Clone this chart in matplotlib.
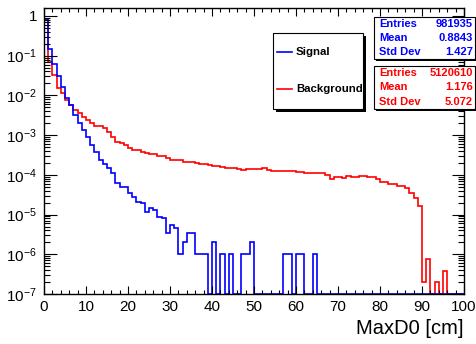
import numpy as np
import matplotlib.pyplot as plt
from matplotlib.patches import Rectangle
from matplotlib.ticker import FixedLocator, LogLocator, MultipleLocator, NullFormatter

plt.rcParams['font.family'] = 'Liberation Sans'
plt.rcParams['mathtext.fontset'] = 'custom'
plt.rcParams['mathtext.rm'] = 'Liberation Sans'
plt.rcParams['mathtext.it'] = 'Liberation Sans:italic'
plt.rcParams['mathtext.bf'] = 'Liberation Sans:bold'

# 100 bins of 1 cm, normalised histograms
edges = np.arange(0, 101, 1)

signal = [0.83, 0.15, 0.062, 0.030, 0.0166, 0.0087, 0.0058, 0.0032, 0.0020, 0.00135,
          0.00091, 5.6e-4, 3.8e-4, 2.4e-4, 1.85e-4, 1.47e-4, 1.1e-4, 6.2e-5, 5.0e-5, 5.0e-5,
          3.5e-5, 2.75e-5, 2.1e-5, 2.0e-5, 1.17e-5, 1.45e-5, 1.32e-5, 8.9e-6, 8.1e-6, 3.4e-6,
          5.5e-6, 4.5e-6, 1.02e-6, 2.04e-6, 3.4e-6, 3.4e-6, 1.02e-6, 1.02e-6, 1.02e-6, 0,
          2.04e-6, 0, 1.02e-6, 0, 1.02e-6, 0, 0, 1.02e-6, 1.02e-6, 2.04e-6,
          0, 0, 0, 0, 0, 0, 0, 1.02e-6, 1.02e-6, 0,
          1.02e-6, 1.02e-6, 0, 0, 1.02e-6, 0, 0, 0, 0, 0,
          0, 0, 0, 0, 0, 0, 0, 0, 0, 0,
          0, 0, 0, 0, 0, 0, 0, 0, 0, 0,
          0, 0, 0, 0, 0, 0, 0, 0, 0, 0]

background = [0.80, 0.069, 0.033, 0.0155, 0.0115, 0.0078, 0.0058, 0.0043, 0.0036, 0.0029,
              0.0024, 0.0020, 0.0017, 0.0017, 0.0015, 0.0012, 8.9e-4, 6.7e-4, 6.2e-4, 5.6e-4,
              4.7e-4, 4.3e-4, 4.3e-4, 3.8e-4, 3.5e-4, 3.3e-4, 3.3e-4, 3.0e-4, 2.9e-4, 2.6e-4,
              2.4e-4, 2.3e-4, 2.3e-4, 2.15e-4, 2.15e-4, 2.05e-4, 1.95e-4, 1.85e-4, 1.85e-4, 1.8e-4,
              1.63e-4, 1.63e-4, 1.55e-4, 1.45e-4, 1.45e-4, 1.52e-4, 1.42e-4, 1.32e-4, 1.42e-4, 1.42e-4,
              1.42e-4, 1.37e-4, 1.48e-4, 1.35e-4, 1.26e-4, 1.26e-4, 1.25e-4, 1.22e-4, 1.22e-4, 1.28e-4,
              1.15e-4, 1.15e-4, 1.1e-4, 1.1e-4, 1.1e-4, 1.1e-4, 1.1e-4, 9.8e-5, 8.0e-5, 8.6e-5,
              8.6e-5, 8.5e-5, 9.3e-5, 9.0e-5, 9.0e-5, 9.5e-5, 9.3e-5, 9.0e-5, 8.8e-5, 7.8e-5,
              6.6e-5, 6.6e-5, 6.0e-5, 6.0e-5, 5.3e-5, 5.3e-5, 4.6e-5, 3.5e-5, 2.6e-5, 1.6e-5,
              1.95e-7, 7.8e-7, 0, 1.95e-7, 0, 3.9e-7, 0, 0, 0, 0]

sig_stats = [("Entries", "981935"), ("Mean", "0.8843"), ("Std Dev", "1.427")]
bkg_stats = [("Entries", "5120610"), ("Mean", "1.176"), ("Std Dev", "5.072")]

ymin, ymax = 1e-7, 1.56
ytick_vals = [1e-7, 1e-6, 1e-5, 1e-4, 1e-3, 1e-2, 1e-1, 1]
ytick_labels = ['$10^{-7}$', '$10^{-6}$', '$10^{-5}$', '$10^{-4}$',
                '$10^{-3}$', '$10^{-2}$', '$10^{-1}$', '1']

W, H = 476, 344
fig = plt.figure(figsize=(W / 100, H / 100), dpi=100)
ax = fig.add_axes([44 / W, 1 - 294 / H, 420 / W, (294 - 8.3) / H])

def clip(v):
    v = np.asarray(v, dtype=float)
    return np.where(v > 0, v, ymin)

ax.stairs(clip(background), edges, color='red', lw=1.2, baseline=None)
ax.stairs(clip(signal), edges, color='blue', lw=1.2, baseline=None)

ax.set_yscale('log')
ax.set_xlim(0, 100)
ax.set_ylim(ymin, ymax)

ax.xaxis.set_major_locator(MultipleLocator(10))
ax.xaxis.set_minor_locator(MultipleLocator(2))
ax.yaxis.set_major_locator(FixedLocator(ytick_vals))
ax.set_yticklabels(ytick_labels)
ax.yaxis.set_minor_locator(LogLocator(base=10, subs=np.arange(2, 10), numticks=20))
ax.yaxis.set_minor_formatter(NullFormatter())

ax.tick_params(axis='both', which='both', direction='in', top=True, right=True,
               labelsize=11, width=0.8)
ax.tick_params(axis='x', which='major', length=5.8, pad=4)
ax.tick_params(axis='x', which='minor', length=2.8)
ax.tick_params(axis='y', which='major', length=9, pad=5)
ax.tick_params(axis='y', which='minor', length=4.3)
for s in ax.spines.values():
    s.set_linewidth(1.0)

fig.text(464 / W, 1 - 329 / H, 'MaxD0 [cm]', ha='right', va='center', fontsize=14.5)


def box(x0, y0, x1, y1, shadow):
    # pixel coords, origin top-left
    fig.add_artist(Rectangle(((x0 + shadow) / W, 1 - (y1 + shadow) / H),
                             (x1 - x0) / W, (y1 - y0) / H,
                             transform=fig.transFigure, fc='black', ec='none'))
    fig.add_artist(Rectangle((x0 / W, 1 - y1 / H), (x1 - x0) / W, (y1 - y0) / H,
                             transform=fig.transFigure, fc='white', ec='black', lw=0.8))


def statbox(y0, y1, rows, row_y, color):
    box(374, y0, 475, y1, 2)
    for (name, val), yy in zip(rows, row_y):
        fig.text(379 / W, 1 - yy / H, name, ha='left', va='center',
                 fontsize=8, fontweight='bold', color=color)
        fig.text(473 / W, 1 - yy / H, val, ha='right', va='center',
                 fontsize=8, fontweight='bold', color=color)


statbox(16.7, 59.3, sig_stats, [24.3, 38.3, 52.0], 'blue')
statbox(65.7, 109.0, bkg_stats, [73.3, 87.3, 101.7], 'red')

# legend
box(272.7, 32.7, 363.3, 109.3, 3)
for label, color, yy in [("Signal", 'blue', 52.3), ("Background", 'red', 89.3)]:
    fig.add_artist(plt.Line2D([277 / W, 292 / W], [1 - yy / H, 1 - yy / H],
                              transform=fig.transFigure, color=color, lw=1.2))
    fig.text(296 / W, 1 - yy / H, label, ha='left', va='center',
             fontsize=8.2, fontweight='bold')

fig.savefig('out.png', dpi=100)
